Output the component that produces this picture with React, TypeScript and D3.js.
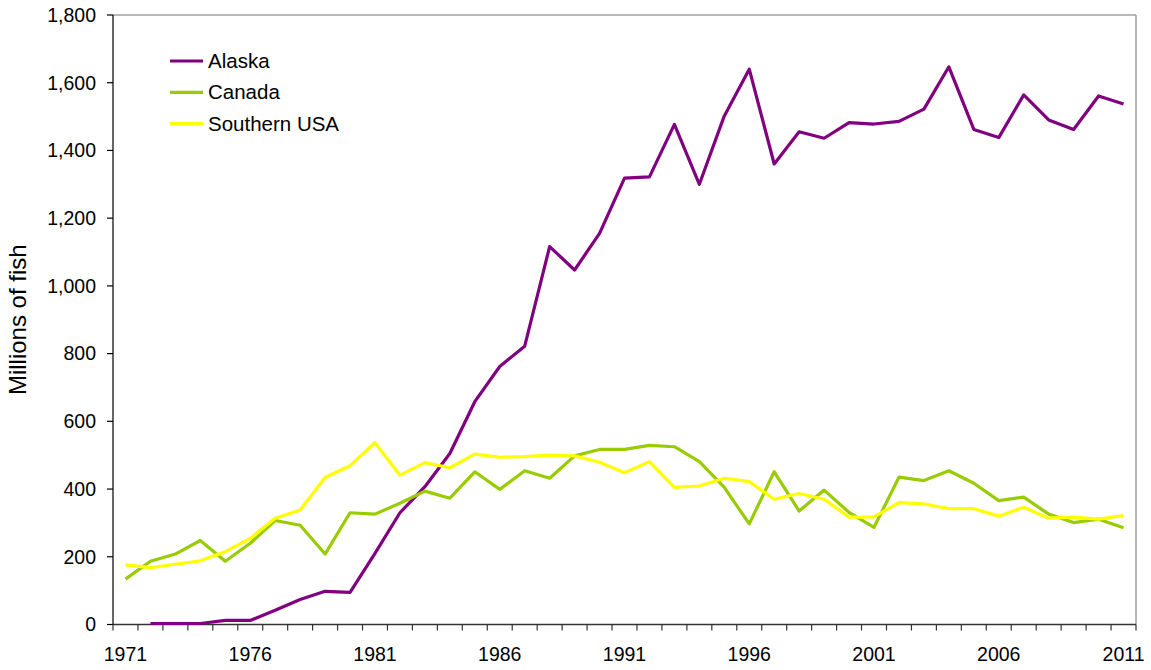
import React from "react";
import { scaleBand, scaleLinear, line, format } from "d3";

// Salmon hatchery releases, millions of fish, by region
const years = [
  1971, 1972, 1973, 1974, 1975, 1976, 1977, 1978, 1979, 1980,
  1981, 1982, 1983, 1984, 1985, 1986, 1987, 1988, 1989, 1990,
  1991, 1992, 1993, 1994, 1995, 1996, 1997, 1998, 1999, 2000,
  2001, 2002, 2003, 2004, 2005, 2006, 2007, 2008, 2009, 2010, 2011,
];

const alaska = [
  null, 3, 3, 3, 12, 12, 42, 74, 98, 95,
  210, 330, 407, 505, 658, 762, 822, 1116, 1047, 1155,
  1318, 1322, 1477, 1300, 1502, 1640, 1360, 1455, 1436, 1482,
  1478, 1486, 1522, 1647, 1462, 1438, 1564, 1490, 1462, 1561, 1537,
];

const canada = [
  134, 187, 208, 248, 187, 240, 307, 293, 208, 330,
  326, 358, 394, 373, 451, 399, 454, 432, 498, 517,
  517, 529, 525, 481, 405, 297, 451, 335, 397, 331,
  287, 435, 425, 454, 417, 366, 376, 326, 301, 311, 286,
];

const southernUSA = [
  176, 168, 178, 188, 215, 254, 314, 338, 434, 469,
  537, 441, 478, 463, 503, 494, 496, 500, 498, 479,
  448, 481, 405, 409, 432, 422, 370, 387, 370, 317,
  318, 360, 356, 342, 342, 320, 346, 314, 317, 311, 322,
];

const yTicks = [0, 200, 400, 600, 800, 1000, 1200, 1400, 1600, 1800];
const xLabels = [1971, 1976, 1981, 1986, 1991, 1996, 2001, 2006, 2011];

const series = [
  { name: "Alaska", values: alaska, color: "#800080" },
  { name: "Canada", values: canada, color: "#99CC00" },
  { name: "Southern USA", values: southernUSA, color: "#FFFF00" },
];

const W = 1151;
const H = 670;
const left = 113;
const right = 1136;
const top = 15;
const bottom = 624.5;
const font = "'Liberation Sans', Arial, sans-serif";

export default function App() {
  const x = scaleBand<number>().domain(years).range([left, right]).padding(0);
  const y = scaleLinear().domain([0, 1800]).range([bottom, top]);
  const fmt = format(",");
  const bw = x.bandwidth();

  const path = (vals: (number | null)[]) =>
    line<number | null>()
      .defined((d) => d !== null)
      .x((_, i) => (x(years[i]) as number) + bw / 2)
      .y((d) => y(d as number))(vals) || "";

  return (
    <svg
      width={W}
      height={H}
      style={{ position: "absolute", left: 0, top: 0, background: "#fff" }}
      fontFamily={font}
    >
      {/* frame */}
      <line x1={left} x2={right} y1={top} y2={top} stroke="#a0a0a0" strokeWidth={1.5} />
      <line x1={right} x2={right} y1={top} y2={bottom} stroke="#a0a0a0" strokeWidth={1.5} />

      {/* y axis */}
      <line x1={left} x2={left} y1={top} y2={bottom} stroke="#000" strokeWidth={1.2} />
      {yTicks.map((t) => (
        <g key={t}>
          <line x1={left - 6} x2={left} y1={y(t)} y2={y(t)} stroke="#000" strokeWidth={1.2} />
          <text x={96} y={y(t)} dy="0.35em" textAnchor="end" fontSize={19.5} fill="#000">
            {fmt(t)}
          </text>
        </g>
      ))}
      <text
        transform={`translate(26,${(top + bottom) / 2}) rotate(-90)`}
        textAnchor="middle"
        fontSize={24}
        fill="#000"
      >
        Millions of fish
      </text>

      {/* x axis */}
      <line x1={left} x2={right} y1={bottom} y2={bottom} stroke="#333" strokeWidth={1.5} />
      {years.map((yr) => (
        <line
          key={yr}
          x1={x(yr) as number}
          x2={x(yr) as number}
          y1={bottom}
          y2={bottom + 6}
          stroke="#333"
          strokeWidth={1.2}
        />
      ))}
      <line x1={right} x2={right} y1={bottom} y2={bottom + 6} stroke="#333" strokeWidth={1.2} />
      {xLabels.map((yr) => (
        <text
          key={yr}
          x={(x(yr) as number) + bw / 2}
          y={661}
          textAnchor="middle"
          fontSize={19.5}
          fill="#000"
        >
          {yr}
        </text>
      ))}

      {/* lines */}
      {series.map((s) => (
        <path
          key={s.name}
          d={path(s.values)}
          fill="none"
          stroke={s.color}
          strokeWidth={3.2}
          strokeLinejoin="round"
        />
      ))}

      {/* legend */}
      {series.map((s, i) => (
        <g key={s.name} transform={`translate(170,${61 + i * 31.3})`}>
          <line x1={0} x2={33} y1={0} y2={0} stroke={s.color} strokeWidth={3.2} />
          <text x={38} y={0} dy="0.35em" fontSize={20.5} fill="#000">
            {s.name}
          </text>
        </g>
      ))}
    </svg>
  );
}
